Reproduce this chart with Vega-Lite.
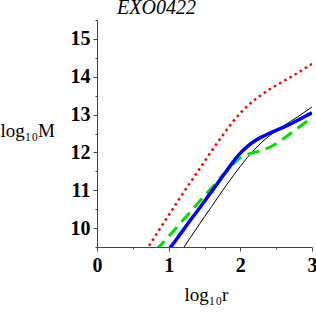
{
  "$schema": "https://vega.github.io/schema/vega-lite/v6.json",
  "width": 215,
  "height": 227,
  "autosize": "none",
  "padding": {"left": 97, "top": 20, "right": 4, "bottom": 67},
  "background": "white",
  "config": {"view": {"stroke": null}},
  "title": {
    "text": "EXO0422",
    "font": "Liberation Serif",
    "fontStyle": "italic",
    "fontWeight": "normal",
    "fontSize": 20,
    "color": "black",
    "anchor": "middle",
    "frame": "group",
    "dx": -48,
    "offset": 2
  },
  "datasets": {
    "curves": [
      {"s": "red", "x": 0.68, "y": 9.4},
      {"s": "red", "x": 0.8, "y": 9.75},
      {"s": "red", "x": 0.9, "y": 10.05},
      {"s": "red", "x": 1.0, "y": 10.34},
      {"s": "red", "x": 1.1, "y": 10.63},
      {"s": "red", "x": 1.2, "y": 10.92},
      {"s": "red", "x": 1.3, "y": 11.2},
      {"s": "red", "x": 1.4, "y": 11.48},
      {"s": "red", "x": 1.5, "y": 11.76},
      {"s": "red", "x": 1.6, "y": 12.04},
      {"s": "red", "x": 1.7, "y": 12.31},
      {"s": "red", "x": 1.8, "y": 12.57},
      {"s": "red", "x": 1.9, "y": 12.82},
      {"s": "red", "x": 2.0, "y": 13.04},
      {"s": "red", "x": 2.1, "y": 13.23},
      {"s": "red", "x": 2.2, "y": 13.39},
      {"s": "red", "x": 2.3, "y": 13.53},
      {"s": "red", "x": 2.4, "y": 13.66},
      {"s": "red", "x": 2.5, "y": 13.77},
      {"s": "red", "x": 2.6, "y": 13.88},
      {"s": "red", "x": 2.7, "y": 13.99},
      {"s": "red", "x": 2.8, "y": 14.1},
      {"s": "red", "x": 2.9, "y": 14.22},
      {"s": "red", "x": 3.0, "y": 14.34},
      {"s": "black", "x": 1.18, "y": 9.4},
      {"s": "black", "x": 1.3, "y": 9.74},
      {"s": "black", "x": 1.4, "y": 10.02},
      {"s": "black", "x": 1.5, "y": 10.3},
      {"s": "black", "x": 1.6, "y": 10.57},
      {"s": "black", "x": 1.7, "y": 10.85},
      {"s": "black", "x": 1.8, "y": 11.12},
      {"s": "black", "x": 1.9, "y": 11.38},
      {"s": "black", "x": 2.0, "y": 11.63},
      {"s": "black", "x": 2.1, "y": 11.87},
      {"s": "black", "x": 2.2, "y": 12.08},
      {"s": "black", "x": 2.3, "y": 12.27},
      {"s": "black", "x": 2.4, "y": 12.43},
      {"s": "black", "x": 2.5, "y": 12.57},
      {"s": "black", "x": 2.6, "y": 12.7},
      {"s": "black", "x": 2.7, "y": 12.82},
      {"s": "black", "x": 2.8, "y": 12.94},
      {"s": "black", "x": 2.9, "y": 13.07},
      {"s": "black", "x": 3.0, "y": 13.2},
      {"s": "green", "x": 0.82, "y": 9.43},
      {"s": "green", "x": 0.9, "y": 9.57},
      {"s": "green", "x": 1.0, "y": 9.78},
      {"s": "green", "x": 1.1, "y": 9.99},
      {"s": "green", "x": 1.2, "y": 10.21},
      {"s": "green", "x": 1.3, "y": 10.42},
      {"s": "green", "x": 1.4, "y": 10.64},
      {"s": "green", "x": 1.5, "y": 10.85},
      {"s": "green", "x": 1.6, "y": 11.06},
      {"s": "green", "x": 1.7, "y": 11.28},
      {"s": "green", "x": 1.8, "y": 11.49},
      {"s": "green", "x": 1.9, "y": 11.7},
      {"s": "green", "x": 2.0, "y": 11.86},
      {"s": "green", "x": 2.1, "y": 11.95},
      {"s": "green", "x": 2.2, "y": 12.0},
      {"s": "green", "x": 2.3, "y": 12.05},
      {"s": "green", "x": 2.4, "y": 12.13},
      {"s": "green", "x": 2.5, "y": 12.23},
      {"s": "green", "x": 2.6, "y": 12.36},
      {"s": "green", "x": 2.7, "y": 12.5},
      {"s": "green", "x": 2.8, "y": 12.64},
      {"s": "green", "x": 2.9, "y": 12.78},
      {"s": "green", "x": 3.0, "y": 12.92},
      {"s": "blue", "x": 0.99, "y": 9.4},
      {"s": "blue", "x": 1.1, "y": 9.68},
      {"s": "blue", "x": 1.2, "y": 9.94},
      {"s": "blue", "x": 1.3, "y": 10.2},
      {"s": "blue", "x": 1.4, "y": 10.45},
      {"s": "blue", "x": 1.5, "y": 10.71},
      {"s": "blue", "x": 1.6, "y": 10.97},
      {"s": "blue", "x": 1.7, "y": 11.23},
      {"s": "blue", "x": 1.8, "y": 11.49},
      {"s": "blue", "x": 1.9, "y": 11.75},
      {"s": "blue", "x": 2.0, "y": 11.98},
      {"s": "blue", "x": 2.1, "y": 12.16},
      {"s": "blue", "x": 2.2, "y": 12.3},
      {"s": "blue", "x": 2.3, "y": 12.41},
      {"s": "blue", "x": 2.4, "y": 12.5},
      {"s": "blue", "x": 2.5, "y": 12.58},
      {"s": "blue", "x": 2.6, "y": 12.66},
      {"s": "blue", "x": 2.7, "y": 12.75},
      {"s": "blue", "x": 2.8, "y": 12.85},
      {"s": "blue", "x": 2.9, "y": 12.95},
      {"s": "blue", "x": 3.0, "y": 13.05}
    ]
  },
  "data": {"name": "curves"},
  "encoding": {
    "x": {
      "field": "x", "type": "quantitative",
      "scale": {"domain": [0, 3], "nice": false, "zero": false},
      "axis": {
        "values": [0, 0.5, 1, 1.5, 2, 2.5, 3],
        "labelExpr": "datum.value % 1 == 0 ? format(datum.value, 'd') : ''",
        "grid": false,
        "domainColor": "#444", "tickColor": "#444",
        "tickSize": {"condition": {"test": "datum.value % 1 == 0", "value": 4}, "value": 2},
        "labelFont": "Liberation Serif", "labelFontWeight": "bold", "labelFontSize": 20,
        "labelColor": "black", "labelPadding": 4, "labelFlush": false,
        "title": "log₁₀r",
        "titleFont": "Liberation Serif", "titleFontWeight": "normal", "titleFontSize": 19,
        "titleColor": "black", "titleBaseline": "alphabetic",
        "titleX": 109, "titleY": 53
      }
    },
    "y": {
      "field": "y", "type": "quantitative",
      "scale": {"domain": [9.5, 15.5], "nice": false, "zero": false},
      "axis": {
        "values": [9.5, 10, 10.5, 11, 11.5, 12, 12.5, 13, 13.5, 14, 14.5, 15, 15.5],
        "labelExpr": "datum.value % 1 == 0 ? format(datum.value, 'd') : ''",
        "grid": false,
        "domainColor": "#444", "tickColor": "#444",
        "tickSize": {"condition": {"test": "datum.value % 1 == 0", "value": 4}, "value": 2},
        "labelFont": "Liberation Serif", "labelFontWeight": "bold", "labelFontSize": 20,
        "labelColor": "black", "labelPadding": 3, "labelFlush": false,
        "title": "log₁₀M",
        "titleFont": "Liberation Serif", "titleFontWeight": "normal", "titleFontSize": 19,
        "titleColor": "black", "titleAngle": 0, "titleAlign": "left", "titleBaseline": "alphabetic",
        "titleX": -97, "titleY": 116
      }
    }
  },
  "layer": [
    {
      "transform": [{"filter": "datum.s == 'black'"}],
      "mark": {"type": "line", "clip": true, "color": "black", "strokeWidth": 1, "interpolate": "monotone"}
    },
    {
      "transform": [{"filter": "datum.s == 'red'"}],
      "mark": {"type": "line", "clip": true, "color": "#ff0000", "strokeWidth": 2.5, "strokeDash": [2.5, 3.5], "strokeCap": "butt", "interpolate": "monotone"}
    },
    {
      "transform": [{"filter": "datum.s == 'green'"}],
      "mark": {"type": "line", "clip": true, "color": "#00dd00", "strokeWidth": 3, "strokeDash": [12, 7], "interpolate": "monotone"}
    },
    {
      "transform": [{"filter": "datum.s == 'blue'"}],
      "mark": {"type": "line", "clip": true, "color": "#0000ff", "strokeWidth": 3.5, "interpolate": "monotone"}
    }
  ]
}
